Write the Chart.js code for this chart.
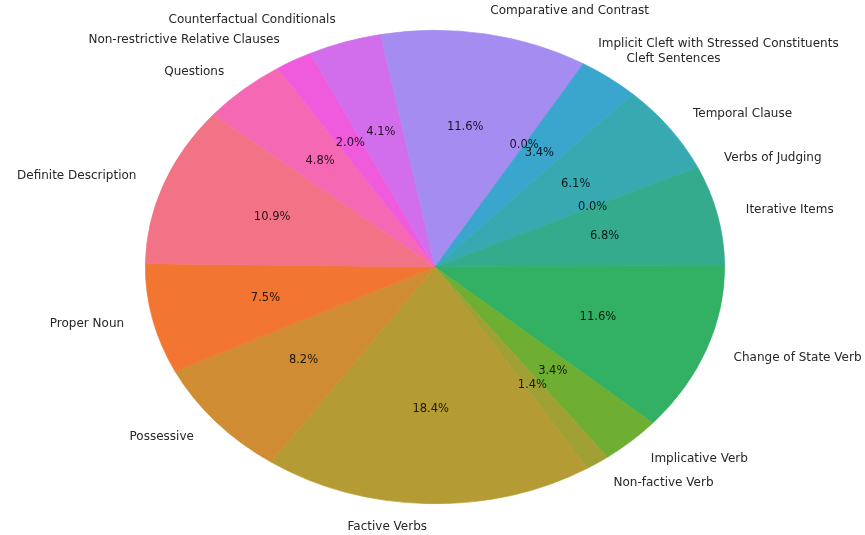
<!DOCTYPE html>
<html>
<head>
<meta charset="utf-8">
<script src="https://cdn.jsdelivr.net/npm/chart.js@4"></script>
<style>
  html, body { margin: 0; padding: 0; background: #fff; }
  #wrap { width: 865px; height: 535px; }
</style>
</head>
<body>
<div id="wrap"><canvas id="myChart"></canvas></div>
<script>
// categories in clockwise drawing order, starting at the upper-left
var categories = ['Questions', 'Non-restrictive Relative Clauses', 'Counterfactual Conditionals',
  'Comparative and Contrast', 'Implicit Cleft with Stressed Constituents', 'Cleft Sentences',
  'Temporal Clause', 'Verbs of Judging', 'Iterative Items', 'Change of State Verb',
  'Implicative Verb', 'Non-factive Verb', 'Factive Verbs', 'Possessive', 'Proper Noun',
  'Definite Description'];
var counts = [7, 3, 6, 17, 0, 5, 9, 0, 10, 17, 5, 2, 27, 12, 11, 16];
var colors = ['#f569b4', '#f05adc', '#d26eeb', '#a48cf0', '#6e9bf4', '#3aa5cd',
  '#36aab0', '#35ab9e', '#34ab8c', '#32b064', '#6eae32', '#a0a034', '#b49b34',
  '#d08c32', '#f27532', '#f37386'];

var cx = 435, cy = 267, stretchX = 1.2236;
var total = counts.reduce(function (a, b) { return a + b; }, 0);

// the source picture is squashed, so the pie is drawn as an ellipse
var stretchPlugin = {
  id: 'stretch',
  beforeDatasetsDraw: function (chart) {
    var ctx = chart.ctx;
    ctx.save();
    ctx.translate(cx, cy);
    ctx.scale(stretchX, 1);
    ctx.translate(-cx, -cy);
  },
  afterDatasetsDraw: function (chart) {
    chart.ctx.restore();
  }
};

var labelPlugin = {
  id: 'pieLabels',
  afterDraw: function (chart) {
    var ctx = chart.ctx;
    var arcs = chart.getDatasetMeta(0).data;
    ctx.save();
    ctx.textBaseline = 'middle';
    arcs.forEach(function (arc, i) {
      var p = arc.getProps(['x', 'y', 'startAngle', 'endAngle', 'outerRadius'], true);
      var mid = (p.startAngle + p.endAngle) / 2;
      var c = Math.cos(mid), s = Math.sin(mid);
      // outer label
      ctx.font = '12px "DejaVu Sans"';
      ctx.fillStyle = '#262626';
      ctx.textAlign = c >= 0 ? 'left' : 'right';
      ctx.fillText(categories[i], p.x + stretchX * 1.1 * p.outerRadius * c, p.y + 1.1 * p.outerRadius * s);
      // percentage
      ctx.font = '11.5px "DejaVu Sans"';
      ctx.fillStyle = 'rgba(0,0,0,0.85)';
      ctx.textAlign = 'center';
      ctx.fillText((counts[i] / total * 100).toFixed(1) + '%', p.x + stretchX * 0.6 * p.outerRadius * c, p.y + 0.6 * p.outerRadius * s);
    });
    ctx.restore();
  }
};

var ctx = document.getElementById('myChart').getContext('2d');
var chart = new Chart(ctx, {
    type: 'pie',
    data: {
        labels: categories,
        datasets: [{
            data: counts,
            backgroundColor: colors,
            borderColor: colors,
            borderWidth: 0.6
        }]
    },
    options: {
        responsive: true,
        maintainAspectRatio: false,
        animation: false,
        rotation: -50,
        layout: { padding: { top: 30, bottom: 31, left: 198, right: 193 } },
        plugins: {
            legend: { display: false },
            tooltip: { enabled: false }
        }
    },
    plugins: [stretchPlugin, labelPlugin]
});
</script>
</body>
</html>
